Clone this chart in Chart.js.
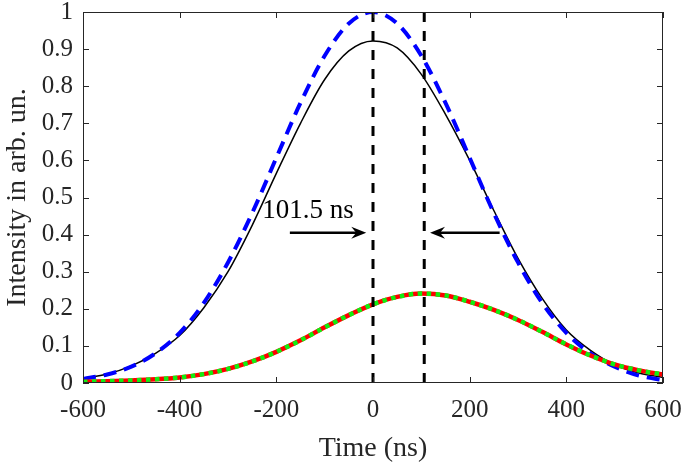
<!DOCTYPE html>
<html>
<head>
<meta charset="utf-8">
<script src="https://cdn.jsdelivr.net/npm/chart.js@4.4.1/dist/chart.umd.min.js"></script>
<style>
    html, body { margin: 0; padding: 0; background: #fff; }
    #wrap { width: 685px; height: 466px; }
</style>
</head>
<body>
<div id="wrap"><canvas id="pulseChart" width="685" height="466"></canvas></div>
<script>
// time axis (ns)
const timeNs = [-600, -550, -500, -450, -400, -350, -300, -250, -200, -150, -100, -50, 0,
                50, 100, 150, 200, 250, 300, 350, 400, 450, 500, 550, 600];

// input pulse (blue dashed)
const inputPulse = [0.011, 0.023, 0.044, 0.080, 0.135, 0.216, 0.325, 0.458, 0.607, 0.755, 0.882, 0.969, 1.000,
                    0.969, 0.882, 0.755, 0.607, 0.458, 0.325, 0.216, 0.135, 0.080, 0.044, 0.020, 0.008];
// transmitted pulse (black solid)
const transmitted = [0.012, 0.024, 0.046, 0.080, 0.128, 0.203, 0.300, 0.425, 0.565, 0.700, 0.818, 0.895, 0.922,
                     0.903, 0.832, 0.724, 0.600, 0.465, 0.336, 0.228, 0.143, 0.088, 0.049, 0.027, 0.015];
// delayed pulse (red solid + green dotted)
const delayedRed = [0.003, 0.005, 0.007, 0.010, 0.015, 0.024, 0.038, 0.058, 0.084, 0.115, 0.150, 0.183, 0.212,
                    0.232, 0.241, 0.236, 0.219, 0.197, 0.170, 0.138, 0.104, 0.074, 0.050, 0.034, 0.023];
const delayedGreen = [0.003, 0.005, 0.007, 0.010, 0.015, 0.024, 0.038, 0.058, 0.084, 0.115, 0.150, 0.183, 0.212,
                      0.232, 0.241, 0.236, 0.219, 0.197, 0.170, 0.138, 0.104, 0.074, 0.050, 0.034, 0.023];

// vertical marker lines (peak positions, ns)
const markerTimes = [0, 106];

// tick labels
const xTickLabels = ['-600', '-400', '-200', '0', '200', '400', '600'];
const yTickLabels = ['0', '0.1', '0.2', '0.3', '0.4', '0.5', '0.6', '0.7', '0.8', '0.9', '1'];

const delayLabel = '101.5 ns';

const FONT = '"Liberation Serif", "Times New Roman", serif';
const AXIS_COLOR = '#262626';

function toPoints(values) {
    return timeNs.map((t, i) => ({ x: t, y: values[i] }));
}

// inner tick marks + box (MATLAB style)
const boxPlugin = {
    id: 'boxPlugin',
    afterDatasetsDraw(chart) {
        const { ctx, chartArea: a, scales } = chart;
        ctx.save();
        ctx.strokeStyle = AXIS_COLOR;
        ctx.lineWidth = 1;
        ctx.strokeRect(a.left + 0.5, a.top + 0.5, a.right - a.left - 1, a.bottom - a.top - 1);
        const len = 6;
        ctx.beginPath();
        scales.x.ticks.forEach(t => {
            const px = Math.round(scales.x.getPixelForValue(t.value)) + 0.5;
            ctx.moveTo(px, a.bottom); ctx.lineTo(px, a.bottom - len);
            ctx.moveTo(px, a.top); ctx.lineTo(px, a.top + len);
        });
        scales.y.ticks.forEach(t => {
            const py = Math.round(scales.y.getPixelForValue(t.value)) + 0.5;
            ctx.moveTo(a.left, py); ctx.lineTo(a.left + len, py);
            ctx.moveTo(a.right, py); ctx.lineTo(a.right - len, py);
        });
        ctx.stroke();
        ctx.restore();
    }
};

// arrows + delay text
const annotation = {
    text: { x: -229, y: 0.445 },
    arrows: [
        { from: -172, to: -14, y: 0.405 },
        { from: 262, to: 118, y: 0.405 }
    ]
};

function drawArrow(ctx, x1, y, x2) {
    const dir = x2 > x1 ? 1 : -1;
    ctx.beginPath();
    ctx.moveTo(x1, y);
    ctx.lineTo(x2 - dir * 6, y);
    ctx.stroke();
    ctx.beginPath();
    ctx.moveTo(x2, y);
    ctx.lineTo(x2 - dir * 15, y - 6);
    ctx.lineTo(x2 - dir * 10, y);
    ctx.lineTo(x2 - dir * 15, y + 6);
    ctx.closePath();
    ctx.fill();
}

const annotationPlugin = {
    id: 'annotationPlugin',
    afterDatasetsDraw(chart) {
        const { ctx, scales } = chart;
        ctx.save();
        ctx.strokeStyle = '#000';
        ctx.fillStyle = '#000';
        ctx.lineWidth = 2.5;
        annotation.arrows.forEach(a => {
            drawArrow(ctx,
                scales.x.getPixelForValue(a.from),
                scales.y.getPixelForValue(a.y),
                scales.x.getPixelForValue(a.to));
        });
        ctx.font = '27px ' + FONT;
        ctx.textAlign = 'left';
        ctx.textBaseline = 'alphabetic';
        ctx.fillStyle = '#000';
        ctx.fillText(delayLabel,
            scales.x.getPixelForValue(annotation.text.x),
            scales.y.getPixelForValue(annotation.text.y));
        ctx.restore();
    }
};

const markerDatasets = markerTimes.map((t, i) => ({
    label: 'marker' + i,
    data: [{ x: t, y: 0 }, { x: t, y: 1 }],
    borderColor: '#000',
    borderWidth: 3,
    borderDash: [10, 9],
    pointRadius: 0,
    order: 0
}));

new Chart(document.getElementById('pulseChart'), {
    type: 'line',
    data: {
        datasets: [
            ...markerDatasets,
            {
                label: 'delayed (dotted)',
                data: toPoints(delayedGreen),
                borderColor: '#11ee11',
                borderWidth: 4.5,
                borderDash: [4.5, 4.5],
                pointRadius: 0,
                cubicInterpolationMode: 'monotone',
                order: 1
            },
            {
                label: 'delayed',
                data: toPoints(delayedRed),
                borderColor: '#ff0000',
                borderWidth: 4.5,
                pointRadius: 0,
                cubicInterpolationMode: 'monotone',
                order: 2
            },
            {
                label: 'input',
                data: toPoints(inputPulse),
                borderColor: '#0000ff',
                borderWidth: 4,
                borderDash: [13, 8],
                pointRadius: 0,
                cubicInterpolationMode: 'monotone',
                order: 3
            },
            {
                label: 'transmitted',
                data: toPoints(transmitted),
                borderColor: '#000',
                borderWidth: 1.5,
                pointRadius: 0,
                cubicInterpolationMode: 'monotone',
                order: 4
            }
        ]
    },
    options: {
        responsive: false,
        animation: false,
        layout: { padding: { left: 0, right: 22, top: 12, bottom: 0 } },
        plugins: {
            legend: { display: false },
            tooltip: { enabled: false }
        },
        scales: {
            x: {
                type: 'linear',
                min: -600,
                max: 600,
                grid: { display: false, drawTicks: false },
                border: { display: false },
                afterFit(scale) {
                    scale.height = 83;
                    scale.paddingLeft = 0;
                    scale.paddingRight = 0;
                },
                afterBuildTicks(scale) {
                    scale.ticks = xTickLabels.map(v => ({ value: Number(v) }));
                },
                ticks: {
                    color: AXIS_COLOR,
                    font: { family: FONT, size: 25 },
                    padding: 12,
                    maxRotation: 0,
                    callback: (value) => xTickLabels[xTickLabels.indexOf(String(value))]
                },
                title: {
                    display: true,
                    text: 'Time (ns)',
                    color: AXIS_COLOR,
                    font: { family: FONT, size: 28 },
                    padding: { top: 0, bottom: 1 }
                }
            },
            y: {
                type: 'linear',
                min: 0,
                max: 1,
                grid: { display: false, drawTicks: false },
                border: { display: false },
                afterFit(scale) {
                    scale.width = 83;
                    scale.paddingTop = 0;
                    scale.paddingBottom = 0;
                },
                afterBuildTicks(scale) {
                    scale.ticks = yTickLabels.map(v => ({ value: Number(v) }));
                },
                ticks: {
                    color: AXIS_COLOR,
                    font: { family: FONT, size: 25 },
                    padding: 10,
                    callback: (value) => yTickLabels[Math.round(value * 10)]
                },
                title: {
                    display: true,
                    text: 'Intensity in arb. un.',
                    color: AXIS_COLOR,
                    font: { family: FONT, size: 28 },
                    padding: { top: 1, bottom: 0 }
                }
            }
        }
    },
    plugins: [boxPlugin, annotationPlugin]
});
</script>
</body>
</html>
